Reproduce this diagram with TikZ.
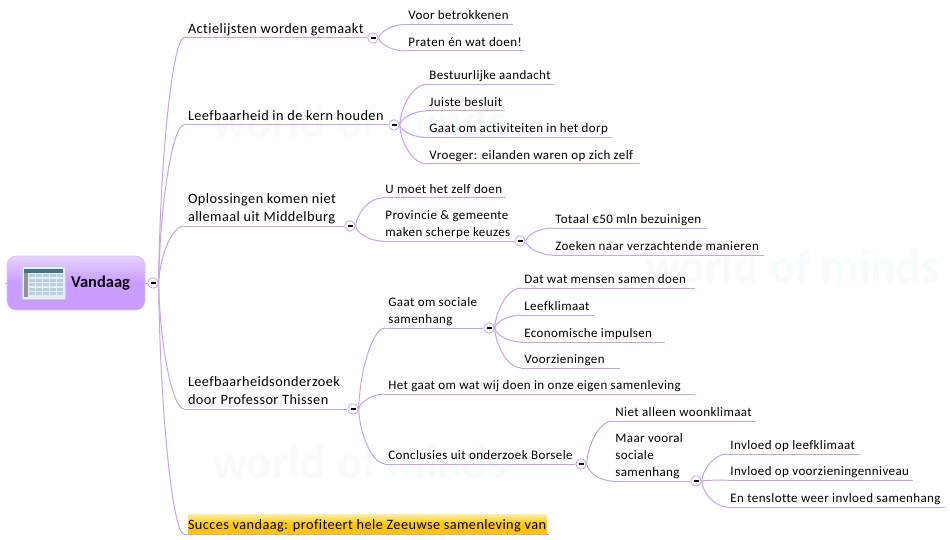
\documentclass[tikz,border=0pt]{standalone}
\usepackage{fontspec}
\setmainfont{Carlito}
\usetikzlibrary{calc}
\definecolor{edge}{HTML}{C6A4E8}
\definecolor{rootlight}{HTML}{E6D2FF}
\definecolor{rootdark}{HTML}{C99CFF}
\definecolor{rootedge}{HTML}{DCC3FA}
\definecolor{hltop}{HTML}{FFEC9C}
\definecolor{hlbot}{HTML}{FFC600}
\definecolor{wmgray}{HTML}{FAFAFA}
\definecolor{wmcyan}{HTML}{F6FCFE}
\definecolor{hdr}{HTML}{3F7486}
\definecolor{cell}{HTML}{B9CFDE}
\definecolor{iconbg}{HTML}{E6EEF3}
\definecolor{iconedge}{HTML}{C4CCD6}
\newfontfamily\spaced[LetterSpace=3,Ligatures=NoCommon]{Carlito}
\newcommand{\lone}{\spaced\fontsize{14.3}{18}\selectfont}
\newcommand{\ltwo}{\spaced\fontsize{13}{17}\selectfont}
% connector from a collapse button (or root) to a topic underline start
\newcommand{\conn}[2]{\draw[connector] let \p1=(#1.east), \p2=(#2.south west) in (\p1) .. controls ({\x1+0.05*(\x2-\x1)},{\y1+0.5*(\y2-\y1)}) and ({\x1+0.55*(\x2-\x1)},{\y2}) .. (\p2);}
% topic: style, name, x start, x end, y of underline, text
\newcommand{\topic}[6]{\node[#1] (#2) at (#3,#5) {#6};\coordinate (#2end) at (#4,#5);\draw[connector] (#2.south west) -- (#2end);}
\newcommand{\mini}[3]{\node[minibtn] (#1) at (#2,#3) {};}
\tikzset{
 x=1pt,y=-1pt,
 connector/.style={draw=edge,line width=1pt},
 topicone/.style={anchor=south west,inner xsep=3.8pt,inner ysep=-0.7pt,align=left,font=\lone},
 topictwo/.style={anchor=south west,inner xsep=3.2pt,inner ysep=-0.7pt,align=left,font=\ltwo},
 minibtn/.style={circle,draw=edge,fill=white,line width=0.8pt,minimum size=10.5pt,inner sep=0pt,
   path picture={\draw[black,line width=1.2pt] ([xshift=-2.5pt]path picture bounding box.center) -- ([xshift=2.5pt]path picture bounding box.center);}},
 rootbox/.style={rounded corners=9pt,top color=rootlight,bottom color=rootdark,middle color=rootdark,draw=rootedge,line width=0.6pt,minimum width=138pt,minimum height=54pt,inner sep=0pt},
 wm/.style={anchor=base west,inner sep=0pt,font=\bfseries\fontsize{47}{47}\selectfont},
}
\begin{document}
\begin{tikzpicture}
\useasboundingbox (0,0) rectangle (950,540);
\fill[white] (0,0) rectangle (950,540);
% faint watermarks
\node[wm,text=wmgray] (w1) at (212,138) {world};
\node[wm,text=wmcyan] (w2) at (337,138) {of minds};
\node[wm,text=wmgray] (w3) at (212,478) {world};
\node[wm,text=wmcyan] (w4) at (337,478) {of minds};
\node[wm,text=wmgray] (w5) at (645,282) {world};
\node[wm,text=wmcyan] (w6) at (770,282) {of minds};
% root
\coordinate (stub) at (5,283);
\node[rootbox] (root) at (76,283) {};
\draw[connector] (stub) -- (root.west);
\node[anchor=west,inner sep=0pt,font=\bfseries\fontsize{16.5}{18}\selectfont,text=black!90!violet] (rootlabel) at (71,283) {Vandaag};
\node[inner sep=0pt,minimum width=43pt,minimum height=33pt,fill=iconbg,draw=iconedge,line width=0.7pt] (icon) at (43.5,282.5) {};
\fill[gray!85!white] (24,269) rectangle (27.5,297);
\fill[hdr] (24,268.5) rectangle (63,273);
\foreach \r in {274,278.5,283,287.5,292}{\foreach \c in {28.5,35.5,42.5,49.5,56.5}{\fill[cell] (\c,\r) rectangle (\c+6,\r+3.4);}}
\node[minibtn] (rootbtn) at (153,283) {};
\draw[connector] (root.east) -- (rootbtn.west);
% level one
\topic{topicone}{a}{184}{367}{38}{Actielijsten worden gemaakt\strut}
\topic{topicone}{b}{184}{388}{125}{Leefbaarheid in de kern houden\strut}
\topic{topicone}{c}{184}{344}{226}{Oplossingen komen niet\\allemaal uit Middelburg\strut}
\topic{topicone}{d}{184}{347}{409}{Leefbaarheidsonderzoek\\door Professor Thissen\strut}
\node[anchor=south west,inner sep=0pt,minimum width=358pt,minimum height=19pt] (hl) at (188,534) {};
\fill[top color=hltop,bottom color=hlbot,middle color=hlbot] (hl.south west) rectangle (hl.north east);
\topic{topicone}{e}{184}{549}{534}{Succes vandaag: profiteert hele Zeeuwse samenleving van\strut}
\foreach \t in {a,b,c,d,e}{\conn{rootbtn}{\t}}
% buttons
\mini{am}{373}{38}\mini{bm}{394}{125}\mini{cm}{350}{226}\mini{dm}{353}{409}
% a
\topic{topictwo}{a1}{405}{513}{24.5}{Voor betrokkenen\strut}
\topic{topictwo}{a2}{405}{525}{51}{Praten én wat doen!\strut}
\conn{am}{a1}\conn{am}{a2}
% b
\topic{topictwo}{b1}{426}{554}{84.5}{Bestuurlijke aandacht\strut}
\topic{topictwo}{b2}{426}{505}{111}{Juiste besluit\strut}
\topic{topictwo}{b3}{426}{612}{137.5}{Gaat om activiteiten in het dorp\strut}
\topic{topictwo}{b4}{426}{640}{164}{Vroeger: eilanden waren op zich zelf\strut}
\foreach \t in {b1,b2,b3,b4}{\conn{bm}{\t}}
% c
\topic{topictwo}{c1}{382}{506}{198}{U moet het zelf doen\strut}
\topic{topictwo}{c2}{382}{514}{241}{Provincie \& gemeente\\maken scherpe keuzes\strut}
\conn{cm}{c1}\conn{cm}{c2}
\mini{cn}{520}{241}
\topic{topictwo}{c3}{552}{707}{228}{Totaal €50 mln bezuinigen\strut}
\topic{topictwo}{c4}{552}{764}{255}{Zoeken naar verzachtende manieren\strut}
\conn{cn}{c3}\conn{cn}{c4}
% d
\topic{topictwo}{d1}{385}{483}{328}{Gaat om sociale\\samenhang\strut}
\topic{topictwo}{d2}{385}{695}{394}{Het gaat om wat wij doen in onze eigen samenleving\strut}
\topic{topictwo}{d3}{385}{575}{464}{Conclusies uit onderzoek Borsele\strut}
\foreach \t in {d1,d2,d3}{\conn{dm}{\t}}
\mini{dn}{489}{328}
\topic{topictwo}{e1}{521}{695}{288}{Dat wat mensen samen doen\strut}
\topic{topictwo}{e2}{521}{594}{315}{Leefklimaat\strut}
\topic{topictwo}{e3}{521}{665}{342}{Economische impulsen\strut}
\topic{topictwo}{e4}{521}{620}{368}{Voorzieningen\strut}
\foreach \t in {e1,e2,e3,e4}{\conn{dn}{\t}}
\mini{do}{581}{464}
\topic{topictwo}{f1}{612}{756}{421}{Niet alleen woonklimaat\strut}
\topic{topictwo}{f2}{612}{690}{481}{Maar vooral\\sociale\\samenhang\strut}
\conn{do}{f1}\conn{do}{f2}
\mini{dp}{696}{481}
\topic{topictwo}{g1}{727}{860}{454}{Invloed op leefklimaat\strut}
\topic{topictwo}{g2}{727}{913}{480}{Invloed op voorzieningenniveau\strut}
\topic{topictwo}{g3}{727}{945}{507}{En tenslotte weer invloed samenhang\strut}
\foreach \t in {g1,g2,g3}{\conn{dp}{\t}}
\end{tikzpicture}
\end{document}
